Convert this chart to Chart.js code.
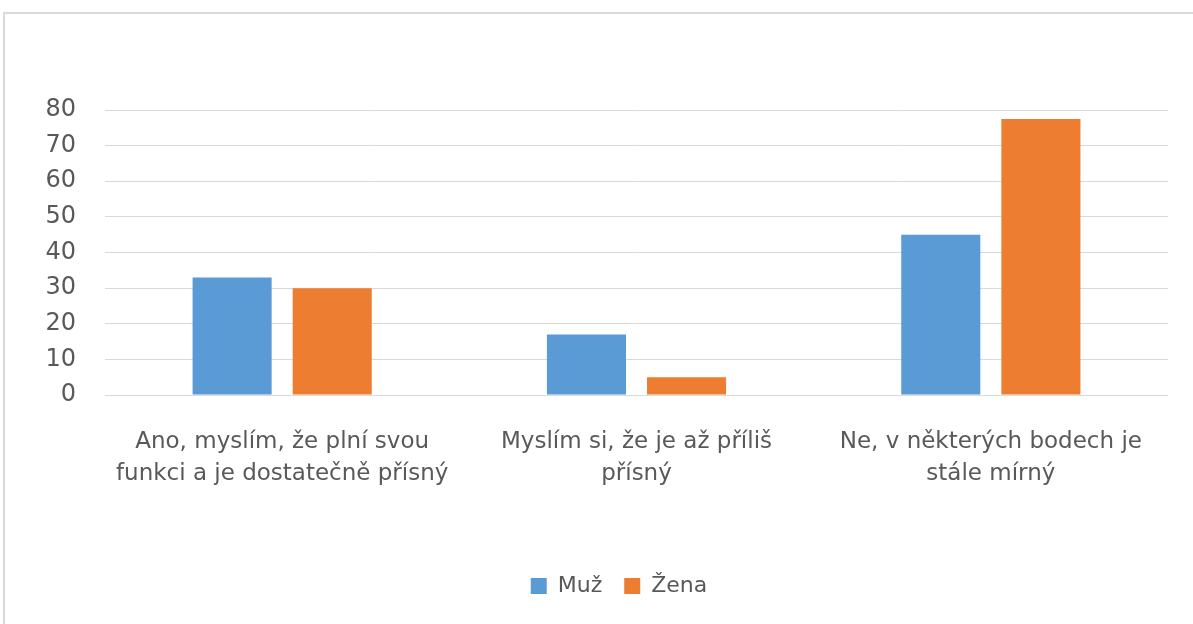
<!DOCTYPE html>
<html>
<head>
<meta charset="utf-8">
<script src="https://cdn.jsdelivr.net/npm/chart.js@4"></script>
<style>
  html, body { margin: 0; padding: 0; background: #fff; overflow: hidden; }
  #frame { position: absolute; left: 3px; top: 12px; width: 1300px; height: 700px;
           border-top: 2px solid #d9d9d9; border-left: 2px solid #d9d9d9; box-sizing: border-box; }
  #wrap { position: absolute; left: 0; top: 0; width: 1193px; height: 624px; }
</style>
</head>
<body>
<div id="frame"></div>
<div id="wrap"><canvas id="c" width="1193" height="624"></canvas></div>
<script>
const categories = [
  ['Ano, myslím, že plní svou', 'funkci a je dostatečně přísný'],
  ['Myslím si, že je až příliš', 'přísný'],
  ['Ne, v některých bodech je', 'stále mírný']
];
const seriesNames = ['Muž', 'Žena'];
const muzValues = [33, 17, 45];
const zenaValues = [30, 5, 77.5];
const yMin = 0, yMax = 80, yStep = 10;

const textColor = '#595959';
const fontFamily = '"DejaVu Sans", "Liberation Sans", sans-serif';

const legendShift = {
  id: 'legendShift',
  afterLayout(chart) {
    const lg = chart.legend;
    if (lg) { lg.left += 15; lg.right += 15; }
  }
};

new Chart(document.getElementById('c'), {
  type: 'bar',
  data: {
    labels: categories,
    datasets: [
      { label: seriesNames[0], data: muzValues, backgroundColor: '#5B9BD5',
        categoryPercentage: 0.565, barPercentage: 0.79 },
      { label: seriesNames[1], data: zenaValues, backgroundColor: '#ED7D31',
        categoryPercentage: 0.565, barPercentage: 0.79 }
    ]
  },
  plugins: [legendShift],
  options: {
    responsive: false,
    animation: false,
    layout: { padding: { left: 40, right: 25, top: 110, bottom: 17 } },
    plugins: {
      legend: {
        position: 'bottom',
        labels: {
          boxWidth: 16, boxHeight: 16, padding: 22,
          color: textColor,
          font: { family: fontFamily, size: 22 }
        }
      },
      tooltip: { enabled: false }
    },
    scales: {
      x: {
        grid: { display: false, drawTicks: false },
        border: { display: false },
        ticks: {
          color: textColor, padding: 32, maxRotation: 0, autoSkip: false,
          font: { family: fontFamily, size: 23, lineHeight: 1.35 }
        },
        afterFit(scale) { scale.height = 158; }
      },
      y: {
        min: yMin, max: yMax,
        grid: { color: '#d9d9d9', lineWidth: 1, drawTicks: false },
        border: { display: false },
        ticks: {
          stepSize: yStep, color: textColor, padding: 29,
          font: { family: fontFamily, size: 24 }
        },
        afterFit(scale) { scale.width = 65; }
      }
    }
  }
});
</script>
</body>
</html>
